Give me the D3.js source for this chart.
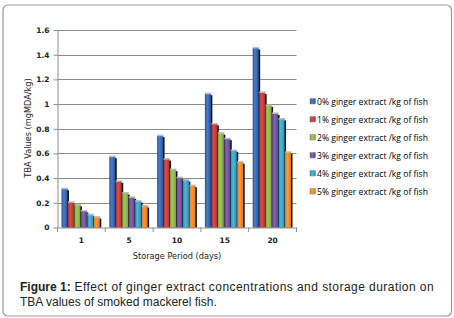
<!DOCTYPE html>
<html>
<head>
<meta charset="utf-8">
<style>
  body { margin: 0; background: #fff; }
  svg { display: block; }
  .tick text { font-family: "DejaVu Sans", sans-serif; font-weight: bold; font-size: 7.5px; fill: #222; }
  .lab { font-family: "DejaVu Sans", sans-serif; font-size: 8.2px; fill: #222; }
  .leg { font-family: "Open Sans", sans-serif; font-size: 8.6px; fill: #000; }
  .cap { font-family: "Liberation Sans", Arial, sans-serif; font-size: 12px; fill: #222; }
</style>
</head>
<body>
<svg width="454" height="318"></svg>
<script src="https://cdn.jsdelivr.net/npm/d3@7"></script>
<script>
// storage days
const days = ["1", "5", "10", "15", "20"]
const series = ["0% ginger extract /kg of fish", "1% ginger extract /kg of fish",
  "2% ginger extract /kg of fish", "3% ginger extract /kg of fish",
  "4% ginger extract /kg of fish", "5% ginger extract /kg of fish"]
// TBA values, one array per concentration
const v0 = [0.31, 0.57, 0.74, 1.08, 1.45]
const v1 = [0.20, 0.37, 0.55, 0.835, 1.09]
const v2 = [0.18, 0.275, 0.465, 0.76, 0.985]
const v3 = [0.13, 0.24, 0.40, 0.715, 0.92]
const v4 = [0.10, 0.21, 0.38, 0.62, 0.875]
const v5 = [0.08, 0.17, 0.335, 0.525, 0.605]
const yTicks = [0, 0.2, 0.4, 0.6, 0.8, 1, 1.2, 1.4, 1.6]

const values = [v0, v1, v2, v3, v4, v5]
const colors = ["#26549b", "#b02f2e", "#7fa535", "#5f4489", "#2891b3", "#e5761a"]
const lights = ["#4a7cc6", "#d4504d", "#a4c85a", "#8466b0", "#4fb8d8", "#fb9a40"]

const svg = d3.select("svg")

// outer rounded border
svg.append("rect").attr("x", 3).attr("y", 5).attr("width", 448.5).attr("height", 311)
  .attr("rx", 5).attr("fill", "none").attr("stroke", "#9a9a9a").attr("stroke-width", 1.2)

// gradients for bars
const defs = svg.append("defs")
colors.forEach((c, i) => {
  const g = defs.append("linearGradient").attr("id", "g" + i)
    .attr("x1", 0).attr("x2", 1).attr("y1", 0).attr("y2", 0)
  g.append("stop").attr("offset", "0%").attr("stop-color", c)
  g.append("stop").attr("offset", "40%").attr("stop-color", lights[i])
  g.append("stop").attr("offset", "100%").attr("stop-color", c)
})

const x0 = d3.scaleBand().domain(days).range([57.5, 296.5]).paddingInner(0).paddingOuter(0)
const x1 = d3.scaleBand().domain(d3.range(6)).range([4, x0.bandwidth() - 5]).padding(0)
const y = d3.scaleLinear().domain([0, 1.6]).range([227.5, 30])

// grid
svg.append("g").selectAll("line").data(yTicks.slice(1)).enter().append("line")
  .attr("x1", 57.5).attr("x2", 296.5)
  .attr("y1", d => Math.round(y(d)) + 0.5).attr("y2", d => Math.round(y(d)) + 0.5)
  .attr("stroke", "#8c8c8c").attr("stroke-width", 1)

// bars
const grp = svg.append("g").selectAll("g").data(days).enter().append("g")
  .attr("transform", d => `translate(${x0(d)},0)`)
grp.each(function (d, di) {
  const g = d3.select(this)
  values.forEach((arr, si) => {
    const bx = x1(si), bw = x1.bandwidth(), top = y(arr[di])
    // shadow on the right
    g.append("rect").attr("x", bx + 1).attr("y", top + 1).attr("width", bw)
      .attr("height", y(0) - top - 1).attr("fill", "#111")
    // light cap
    g.append("rect").attr("x", bx).attr("y", top - 1.5).attr("width", bw)
      .attr("height", 2).attr("fill", "#bbb")
    g.append("rect").attr("x", bx).attr("y", top).attr("width", bw - 0.5)
      .attr("height", y(0) - top).attr("fill", `url(#g${si})`)
  })
})

// y axis
const ya = svg.append("g").attr("transform", "translate(57.5,0)")
  .call(d3.axisLeft(y).tickValues(yTicks).tickSize(4).tickSizeOuter(0).tickFormat(d3.format("~g")))
ya.select(".domain").attr("stroke", "#8c8c8c")
ya.selectAll(".tick line").attr("stroke", "#8c8c8c")
ya.selectAll(".tick text").attr("dx", "-1")

// x axis
const xa = svg.append("g").attr("transform", "translate(0,227.5)")
  .call(d3.axisBottom(x0).tickSize(0).tickPadding(9))
xa.select(".domain").attr("stroke", "#8c8c8c")
xa.selectAll(".tick text").attr("dy", "0.9em")
svg.append("g").selectAll("line").data(days.concat(["end"])).enter().append("line")
  .attr("x1", (d, i) => i < 5 ? x0(d) : 296.5).attr("x2", (d, i) => i < 5 ? x0(d) : 296.5)
  .attr("y1", 227.5).attr("y2", 232).attr("stroke", "#8c8c8c")

// axis titles
svg.append("text").attr("class", "lab").attr("text-anchor", "middle")
  .attr("transform", "translate(31,128) rotate(-90)").text("TBA Values (mgMDA/kg)")
svg.append("text").attr("class", "lab").attr("text-anchor", "middle")
  .attr("x", 177).attr("y", 259).text("Storage Period (days)")

// legend
const leg = svg.append("g").selectAll("g").data(series).enter().append("g")
  .attr("transform", (d, i) => `translate(310,${101.5 + i * 18})`)
leg.append("rect").attr("x", 0).attr("y", -3).attr("width", 5.5).attr("height", 5.5)
  .attr("fill", (d, i) => `url(#g${i})`).attr("stroke", "#888").attr("stroke-width", 0.5)
leg.append("text").attr("class", "leg").attr("x", 7).attr("y", 3).text(d => d)

// caption
const cap = svg.append("text").attr("class", "cap")
cap.append("tspan").attr("x", 20).attr("y", 291).attr("font-weight", "bold").text("Figure 1:")
cap.append("tspan").text(" Effect of ginger extract concentrations and storage duration on")
  .attr("textLength", 363).attr("lengthAdjust", "spacing")
svg.append("text").attr("class", "cap").attr("x", 20).attr("y", 306)
  .text("TBA values of smoked mackerel fish.")
</script>
</body>
</html>
